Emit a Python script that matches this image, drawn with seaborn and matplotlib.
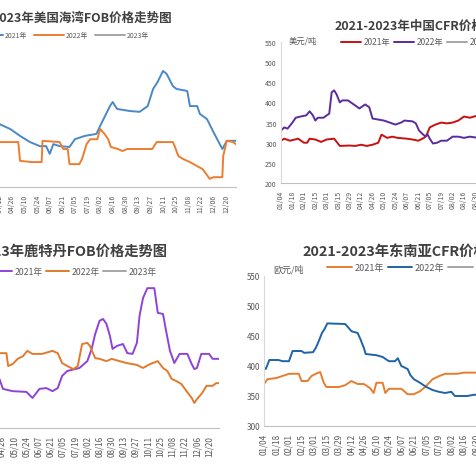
import pandas as pd
import matplotlib
matplotlib.use("Agg")
import matplotlib.pyplot as plt
import matplotlib.dates as mdates
import seaborn as sns

# ---- data (dates are MM/DD) ----
years = ["2021年", "2022年", "2023年"]

gulf_2021_dates = ["04/09", "04/12", "04/24", "05/05", "05/16", "05/27", "06/03", "06/07", "06/11", "06/18",
                   "06/29", "07/05", "07/16", "07/29", "08/02", "08/13", "08/16", "08/21", "09/04", "09/15",
                   "09/24", "09/30", "10/05", "10/11", "10/15", "10/22", "10/26", "11/07", "11/10", "11/18",
                   "11/21", "11/29", "12/06", "12/16", "12/21", "12/31"]
gulf_2021_vals = [360, 354, 342, 325, 310, 300, 300, 281, 305, 300,
                  298, 317, 325, 330, 349, 398, 408, 391, 386, 384,
                  398, 440, 457, 484, 477, 447, 440, 435, 398, 398,
                  379, 366, 335, 293, 313, 313]
gulf_2022_dates = ["04/09", "05/03", "05/05", "05/18", "05/29", "05/30", "06/18", "06/22", "06/27", "06/29",
                   "07/10", "07/13", "07/18", "07/22", "07/30", "08/02", "08/07", "08/11", "08/14", "08/22",
                   "08/27", "09/01", "09/29", "10/04", "10/22", "10/24", "10/28", "11/02", "11/10", "11/18",
                   "11/24", "12/02", "12/06", "12/16", "12/17", "12/21", "12/28", "12/31"]
gulf_2022_vals = [310, 310, 264, 261, 261, 313, 310, 293, 293, 256,
                  256, 269, 305, 317, 317, 342, 330, 317, 298, 293,
                  288, 293, 293, 310, 310, 300, 276, 269, 261, 251,
                  244, 220, 224, 224, 276, 313, 310, 305]

cn_2021_dates = ["01/04", "01/08", "01/15", "01/25", "02/01", "02/05", "02/08", "02/15", "02/22", "03/01",
                 "03/10", "03/17", "03/29", "04/05", "04/12", "04/19", "04/26", "05/03", "05/07", "05/14",
                 "05/20", "05/27", "06/07", "06/14", "06/21", "06/28", "07/01", "07/05", "07/12", "07/19",
                 "07/26", "08/02", "08/09", "08/16", "08/23", "08/30", "09/06"]
cn_2021_vals = [305, 310, 305, 310, 300, 300, 310, 308, 302, 308,
                310, 292, 293, 292, 295, 292, 295, 300, 320, 312,
                315, 312, 310, 308, 305, 312, 318, 338, 345, 350,
                348, 350, 355, 365, 362, 366, 366]
cn_2022_dates = ["01/04", "01/08", "01/12", "01/18", "01/22", "01/28", "02/04", "02/08", "02/12", "02/15",
                 "02/18", "02/25", "03/01", "03/04", "03/07", "03/10", "03/13", "03/17", "03/20", "03/27",
                 "04/03", "04/10", "04/17", "04/22", "04/26", "05/10", "05/17", "05/24", "05/31", "06/04",
                 "06/14", "06/18", "06/22", "06/26", "06/30", "07/02", "07/05", "07/09", "07/14", "07/19",
                 "07/26", "08/02", "08/09", "08/16", "08/23", "08/30", "09/06"]
cn_2022_vals = [330, 338, 335, 350, 362, 365, 368, 378, 368, 355,
                362, 362, 368, 372, 425, 430, 420, 400, 405, 405,
                395, 385, 395, 388, 360, 355, 350, 345, 350, 355,
                353, 348, 330, 322, 315, 322, 310, 298, 300, 305,
                305, 315, 315, 312, 315, 313, 315]

rt_2021_dates = ["04/20", "04/23", "04/27", "05/08", "05/24", "05/31", "06/08", "06/16", "06/23", "06/29",
                 "07/04", "07/10", "07/19", "07/24", "08/02", "08/07", "08/11", "08/16", "08/20", "08/24",
                 "08/28", "08/31", "09/05", "09/12", "09/17", "09/23", "09/28", "10/01", "10/05", "10/10",
                 "10/18", "10/22", "10/28", "11/01", "11/05", "11/10", "11/16", "11/25", "11/30", "12/03",
                 "12/06", "12/11", "12/20", "12/24", "12/31"]
rt_2021_vals = [335, 329, 303, 297, 295, 279, 303, 305, 297, 305,
                337, 350, 355, 358, 376, 408, 447, 482, 487, 474,
                442, 408, 416, 421, 397, 395, 424, 495, 542, 568,
                568, 503, 500, 450, 403, 371, 395, 395, 368, 355,
                358, 395, 395, 382, 382]
rt_2022_dates = ["04/20", "05/01", "05/03", "05/08", "05/14", "05/20", "05/25", "05/31", "06/11", "06/23",
                 "06/29", "07/04", "07/10", "07/17", "07/22", "07/27", "08/02", "08/05", "08/11", "08/16",
                 "08/24", "08/30", "09/08", "09/16", "09/28", "10/05", "10/13", "10/22", "10/28", "11/02",
                 "11/07", "11/12", "11/18", "11/24", "11/30", "12/03", "12/06", "12/12", "12/17", "12/24",
                 "12/28", "12/31"]
rt_2022_vals = [397, 397, 363, 368, 382, 389, 403, 395, 395, 403,
                397, 371, 363, 355, 363, 421, 424, 416, 384, 382,
                376, 382, 376, 371, 366, 358, 368, 376, 358, 350,
                329, 324, 316, 297, 279, 266, 276, 292, 311, 311,
                318, 318]

sea_2021_dates = ["01/04", "01/08", "01/18", "02/01", "02/12", "02/15", "02/22", "02/26", "03/03", "03/08",
                  "03/12", "03/15", "03/29", "04/05", "04/12", "04/19", "04/26", "05/03", "05/07", "05/10",
                  "05/17", "05/20", "05/24", "06/07", "06/14", "06/21", "06/28", "07/05", "07/12", "07/19",
                  "07/26", "08/09", "08/16", "08/30", "09/06"]
sea_2021_vals = [370, 378, 380, 387, 387, 375, 375, 383, 387, 390,
                 372, 365, 365, 368, 375, 370, 370, 363, 355, 372,
                 372, 355, 362, 362, 353, 353, 358, 367, 378, 383,
                 387, 387, 389, 389, 390]
sea_2022_dates = ["01/04", "01/06", "01/10", "01/20", "01/25", "02/01", "02/05", "02/15", "02/18", "02/28",
                  "03/03", "03/06", "03/10", "03/13", "03/16", "04/05", "04/08", "04/12", "04/19", "04/22",
                  "04/26", "04/28", "05/10", "05/17", "05/24", "05/31", "06/03", "06/07", "06/14", "06/17",
                  "06/21", "06/28", "07/05", "07/12", "07/19", "07/26", "08/02", "08/06", "08/20", "08/27",
                  "09/06"]
sea_2022_vals = [397, 395, 410, 410, 408, 408, 425, 425, 422, 423,
                 430, 440, 455, 462, 471, 470, 465, 458, 455, 445,
                 430, 420, 418, 415, 408, 408, 413, 400, 395, 385,
                 378, 372, 365, 360, 357, 355, 357, 350, 350, 352,
                 352]

W, H = 476, 477
TEXT = "#595959"


def to_dates(md):
    return pd.to_datetime(["2021/" + s for s in md], format="%Y/%m/%d")


def add_panel(fig, box, title, title_xy, title_size, leg, series, colors, ylim,
              tick_size=5.0, unit=None, unit_xy=None):
    """box = (left, right, top, bottom) of the plot area in pixels; leg = (cx, cy, fontsize, handlelen, colspace)"""
    x0, x1, ytop, ybot = box
    ax = fig.add_axes([x0 / W, 1 - ybot / H, (x1 - x0) / W, (ybot - ytop) / H])
    for (dates, vals), col, lab in zip(series, colors, years):
        df = pd.DataFrame({"date": to_dates(dates), "price": vals})
        sns.lineplot(data=df, x="date", y="price", ax=ax, color=col, lw=1.4,
                     label=lab, legend=False, estimator=None, sort=False)
    ax.plot([], [], color="#A5A5A5", lw=1.4, label=years[2])

    ax.set_xlim(pd.Timestamp("2021-01-04"), pd.Timestamp("2021-12-31"))
    ax.set_ylim(*ylim)
    ax.set_yticks(range(ylim[0], ylim[1] + 1, 50))
    ax.set_xticks(pd.date_range("2021-01-04", "2021-12-31", freq="14D"))
    ax.xaxis.set_major_formatter(mdates.DateFormatter("%m/%d"))
    ax.tick_params(axis="x", rotation=90, labelsize=tick_size, colors=TEXT, length=3, width=0.6,
                   pad=2, color="#BFBFBF")
    ax.tick_params(axis="y", labelsize=tick_size, colors=TEXT, length=0, pad=3)
    ax.set_xlabel("")
    ax.set_ylabel("")
    for s in ["top", "right"]:
        ax.spines[s].set_visible(False)
    ax.spines["bottom"].set_color("#BFBFBF")
    ax.spines["left"].set_color("#D9D9D9")
    ax.spines["bottom"].set_linewidth(0.8)
    ax.spines["left"].set_linewidth(0.8)

    fig.text(title_xy[0] / W, 1 - title_xy[1] / H, title, ha="center", va="center",
             fontsize=title_size, fontweight="bold", color="#404040")
    cx, cy, fs, hl, cs = leg
    ax.legend(loc="center", bbox_to_anchor=(cx / W, 1 - cy / H),
              bbox_transform=fig.transFigure, ncol=3, frameon=False, fontsize=fs,
              handlelength=hl, handletextpad=0.3, columnspacing=cs, labelcolor=TEXT,
              borderpad=0, borderaxespad=0)
    if unit:
        fig.text(unit_xy[0] / W, 1 - unit_xy[1] / H, unit, ha="left", va="center",
                 fontsize=fs, color=TEXT)
    return ax


sns.set_theme(style="white")
plt.rcParams["font.family"] = ["Noto Sans CJK SC", "DejaVu Sans"]
plt.rcParams["axes.unicode_minus"] = False

fig = plt.figure(figsize=(W / 100, H / 100), dpi=100)

# top left: US Gulf FOB (y axis lies off the cropped canvas)
add_panel(fig, (-88.7, 235.8, 45, 188), "2021-2023年美国海湾FOB价格走势图", (65, 18), 9,
          (61, 36, 4.9, 4.3, 1.1),
          [(gulf_2021_dates, gulf_2021_vals), (gulf_2022_dates, gulf_2022_vals)],
          ["#4A88C7", "#ED7D31"], (200, 550), tick_size=5.0)

# top right: China CFR
add_panel(fig, (281, 576, 43, 184), "2021-2023年中国CFR价格走势图", (428, 26), 9,
          (419, 43, 6.0, 2.4, 0.45),
          [(cn_2021_dates, cn_2021_vals), (cn_2022_dates, cn_2022_vals)],
          ["#C81010", "#5B2C9C"], (200, 550), tick_size=5.0, unit="美元/吨", unit_xy=(289, 41))

# bottom left: Rotterdam FOB
add_panel(fig, (-95.4, 218.7, 277, 429), "2021-2023年鹿特丹FOB价格走势图", (52, 252), 10.3,
          (73, 273, 6.3, 2.6, 0.35),
          [(rt_2021_dates, rt_2021_vals), (rt_2022_dates, rt_2022_vals)],
          ["#8E44D6", "#E07B2E"], (200, 600), tick_size=5.8)

# bottom right: Southeast Asia CFR
add_panel(fig, (264, 586, 277, 427), "2021-2023年东南亚CFR价格走势图", (417, 252), 10.3,
          (416, 269, 6.5, 2.7, 0.45),
          [(sea_2021_dates, sea_2021_vals), (sea_2022_dates, sea_2022_vals)],
          ["#E87D2F", "#1F64A6"], (300, 550), tick_size=5.8, unit="欧元/吨", unit_xy=(273, 270))

fig.savefig("out.png", dpi=100)
